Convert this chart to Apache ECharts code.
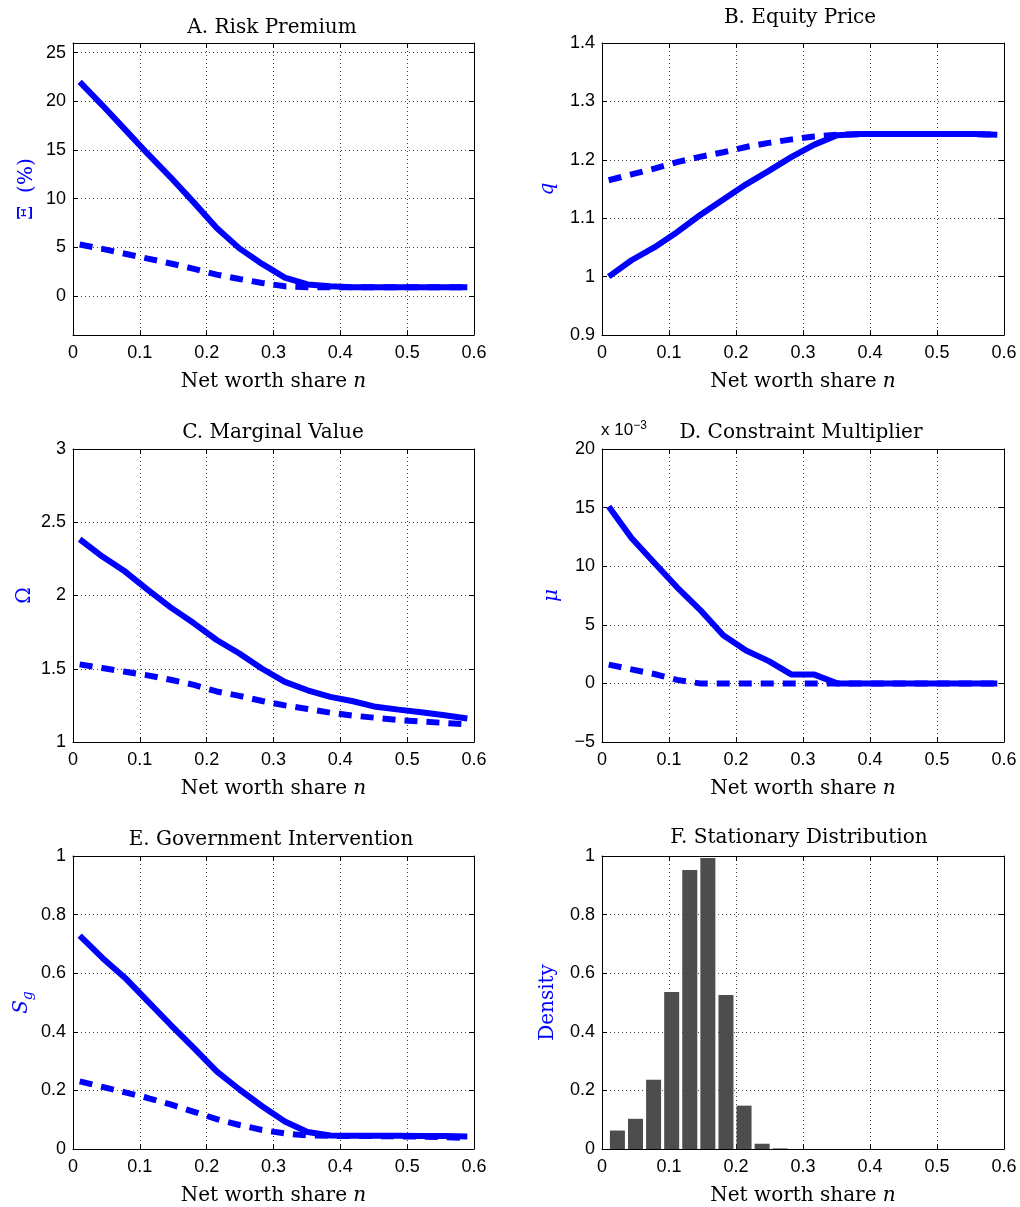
<!DOCTYPE html>
<html>
<head>
<meta charset="utf-8">
<script src="https://cdn.jsdelivr.net/npm/echarts@6/dist/echarts.min.js"></script>
<style>
html, body { margin: 0; padding: 0; background: #fff; }
#main { width: 1020px; height: 1207px; }
</style>
</head>
<body>
<div id="main"></div>
<script>
// grid of net worth shares used by the model
var nGrid = [0.010, 0.044, 0.078, 0.112, 0.146, 0.181, 0.215, 0.249, 0.283,
	0.317, 0.351, 0.385, 0.419, 0.453, 0.487, 0.521, 0.556, 0.590];

// A. risk premium (%)
var premiumSolid = [22.0, 19.6, 17.1, 14.6, 12.2, 9.6, 7.0, 4.9, 3.3, 1.9, 1.2, 1.0, 0.9, 0.9, 0.9, 0.9, 0.9, 0.9];
var premiumDashed = [5.3, 4.85, 4.35, 3.85, 3.35, 2.8, 2.2, 1.75, 1.35, 1.0, 0.9, 0.9, 0.9, 0.9, 0.9, 0.9, 0.9, 0.9];
// B. equity price q
var priceSolid = [1.0, 1.028, 1.05, 1.076, 1.105, 1.132, 1.158, 1.181, 1.205, 1.226, 1.242, 1.244, 1.244, 1.244, 1.244, 1.244, 1.244, 1.243];
var priceDashed = [1.165, 1.175, 1.185, 1.196, 1.205, 1.213, 1.222, 1.229, 1.235, 1.240, 1.243, 1.244, 1.244, 1.244, 1.244, 1.244, 1.244, 1.243];
// C. marginal value Omega
var omegaSolid = [2.384, 2.266, 2.163, 2.038, 1.919, 1.81, 1.696, 1.604, 1.50, 1.41, 1.353, 1.308, 1.278, 1.24, 1.221, 1.203, 1.182, 1.16];
var omegaDashed = [1.53, 1.505, 1.48, 1.455, 1.425, 1.39, 1.345, 1.315, 1.28, 1.25, 1.225, 1.20, 1.18, 1.165, 1.15, 1.14, 1.13, 1.12];
// D. constraint multiplier mu (x 10^-3)
var muSolid = [15.1, 12.4, 10.3, 8.2, 6.3, 4.1, 2.8, 1.9, 0.75, 0.75, 0, 0, 0, 0, 0, 0, 0, 0];
var muDashed = [1.6, 1.2, 0.8, 0.3, 0, 0, 0, 0, 0, 0, 0, 0, 0, 0, 0, 0, 0, 0];
// E. government intervention S_g
var sgSolid = [0.728, 0.652, 0.584, 0.504, 0.424, 0.344, 0.265, 0.203, 0.146, 0.094, 0.058, 0.046, 0.045, 0.045, 0.045, 0.044, 0.044, 0.043];
var sgDashed = [0.231, 0.212, 0.193, 0.174, 0.152, 0.127, 0.102, 0.082, 0.065, 0.053, 0.046, 0.045, 0.044, 0.044, 0.043, 0.042, 0.040, 0.038];
// F. stationary distribution
var histCenters = [0.023, 0.050, 0.077, 0.104, 0.131, 0.158, 0.185, 0.212, 0.239, 0.266];
var histDensity = [0.063, 0.103, 0.236, 0.536, 0.952, 0.993, 0.526, 0.148, 0.018, 0.002];

var xTicks = [0, 0.6, 0.1];
var premiumTicks = [0, 5, 10, 15, 20, 25];

var BLUE = '#0000ff';
var SERIF = 'DejaVu Serif';
var SANS = 'Liberation Sans';

function pairs(xs, ys) {
	var out = [];
	for (var i = 0; i < xs.length; i++) {
		out.push([xs[i], ys[i]]);
	}
	return out;
}

function fmt(v) {
	var s = String(Math.round(v * 1000) / 1000);
	return s.replace('-', '\u2212');
}

var grids = [
	{left: 73, top: 43, width: 401, height: 292},
	{left: 602, top: 43, width: 402, height: 292},
	{left: 73, top: 449, width: 401, height: 293},
	{left: 602, top: 449, width: 402, height: 293},
	{left: 73, top: 856, width: 401, height: 293},
	{left: 602, top: 856, width: 402, height: 293}
];

var yConf = [
	{min: -4, max: 26, custom: premiumTicks, name: '{u|\u039E  (%)}', gap: 36},
	{min: 0.9, max: 1.4, interval: 0.1, name: '{i|q}', gap: 44},
	{min: 1, max: 3, interval: 0.5, name: '{u|\u03A9}', gap: 38},
	{min: -5, max: 20, interval: 5, name: '{i|\u03BC}', gap: 40},
	{min: 0, max: 1, interval: 0.2, name: '{i|S}{sub|g}', gap: 38},
	{min: 0, max: 1, interval: 0.2, name: '{u|Density}', gap: 44}
];

var titles = [
	{text: 'A. Risk Premium', x: 272, y: 18},
	{text: 'B. Equity Price', x: 800, y: 8},
	{text: 'C. Marginal Value', x: 273, y: 423},
	{text: 'D. Constraint Multiplier', x: 801, y: 423},
	{text: 'E. Government Intervention', x: 271, y: 830},
	{text: 'F. Stationary Distribution', x: 799, y: 828}
];

var frameLine = {show: true, onZero: false, lineStyle: {color: '#000', width: 1}};
var tickIn = {show: true, inside: true, length: 5, lineStyle: {color: '#000'}};
var dotted = {show: true, lineStyle: {color: '#444', width: 1, type: [1, 3]}};
var blueRich = {
	u: {fontFamily: SERIF, fontSize: 20, color: BLUE},
	i: {fontFamily: SERIF, fontSize: 20, color: BLUE, fontStyle: 'italic'},
	sub: {fontFamily: SERIF, fontSize: 14, color: BLUE, fontStyle: 'italic', padding: [12, 0, 0, 0]}
};

var xAxes = [], yAxes = [], gridOpts = [], titleOpts = [];
for (var i = 0; i < 6; i++) {
	gridOpts.push(grids[i]);
	titleOpts.push({
		text: titles[i].text, left: titles[i].x, top: titles[i].y, textAlign: 'center', padding: 0,
		textStyle: {fontFamily: SERIF, fontSize: 20, fontWeight: 'normal', color: '#000'}
	});
	xAxes.push({
		type: 'value', gridIndex: i, position: 'bottom',
		min: xTicks[0], max: xTicks[1], interval: xTicks[2],
		axisLine: frameLine, axisTick: tickIn, splitLine: dotted,
		axisLabel: {fontFamily: SANS, fontSize: 18, color: '#000', margin: 9, formatter: fmt},
		name: '{a|Net worth share }{b|n}', nameLocation: 'middle', nameGap: 37,
		nameTextStyle: {rich: {
			a: {fontFamily: SERIF, fontSize: 20, color: '#000'},
			b: {fontFamily: SERIF, fontSize: 20, color: '#000', fontStyle: 'italic'}
		}}
	});
	xAxes.push({
		type: 'value', gridIndex: i, position: 'top',
		min: xTicks[0], max: xTicks[1], interval: xTicks[2],
		axisLine: frameLine, axisTick: tickIn, splitLine: {show: false}, axisLabel: {show: false}
	});
	var yc = yConf[i];
	var yLeft = {
		type: 'value', gridIndex: i, position: 'left',
		min: yc.min, max: yc.max,
		axisLine: frameLine, axisTick: tickIn, splitLine: dotted,
		axisLabel: {fontFamily: SANS, fontSize: 18, color: '#000', margin: 7, formatter: fmt},
		name: yc.name, nameLocation: 'middle', nameGap: yc.gap,
		nameTextStyle: {rich: blueRich}
	};
	var yRight = {
		type: 'value', gridIndex: i, position: 'right',
		min: yc.min, max: yc.max,
		axisLine: frameLine, axisTick: tickIn, splitLine: {show: false}, axisLabel: {show: false}
	};
	if (yc.custom) {
		yLeft.axisLabel.customValues = yc.custom;
		yLeft.axisTick = {show: true, inside: true, length: 5, lineStyle: {color: '#000'}, customValues: yc.custom};
		yRight.axisTick = {show: true, inside: true, length: 5, lineStyle: {color: '#000'}, customValues: yc.custom};
	} else {
		yLeft.interval = yc.interval;
		yRight.interval = yc.interval;
	}
	yAxes.push(yLeft, yRight);
}

var lineSets = [
	[premiumSolid, premiumDashed],
	[priceSolid, priceDashed],
	[omegaSolid, omegaDashed],
	[muSolid, muDashed],
	[sgSolid, sgDashed]
];

var series = [];
for (var p = 0; p < lineSets.length; p++) {
	series.push({
		type: 'line', xAxisIndex: 2 * p, yAxisIndex: 2 * p,
		data: pairs(nGrid, lineSets[p][0]), showSymbol: false, silent: true,
		lineStyle: {color: BLUE, width: 6, type: 'solid', cap: 'butt'}
	});
	series.push({
		type: 'line', xAxisIndex: 2 * p, yAxisIndex: 2 * p,
		data: pairs(nGrid, lineSets[p][1]), showSymbol: false, silent: true,
		lineStyle: {color: BLUE, width: 6, type: [13, 9], cap: 'butt'}
	});
}
series.push({
	type: 'bar', xAxisIndex: 10, yAxisIndex: 10,
	data: pairs(histCenters, histDensity), barWidth: 15, silent: true,
	itemStyle: {color: '#4d4d4d'}
});

var chart = echarts.init(document.getElementById('main'), null, {renderer: 'canvas'});
chart.setOption({
	animation: false,
	backgroundColor: '#fff',
	title: titleOpts,
	grid: gridOpts,
	xAxis: xAxes,
	yAxis: yAxes,
	series: series,
	graphic: [{
		type: 'text', left: 601, top: 420,
		style: {
			text: '{a|x 10}{b|\u22123}',
			rich: {
				a: {fontFamily: SANS, fontSize: 17, fill: '#000', padding: [8, 0, 0, 0]},
				b: {fontFamily: SANS, fontSize: 12, fill: '#000'}
			}
		}
	}]
});
</script>
</body>
</html>
